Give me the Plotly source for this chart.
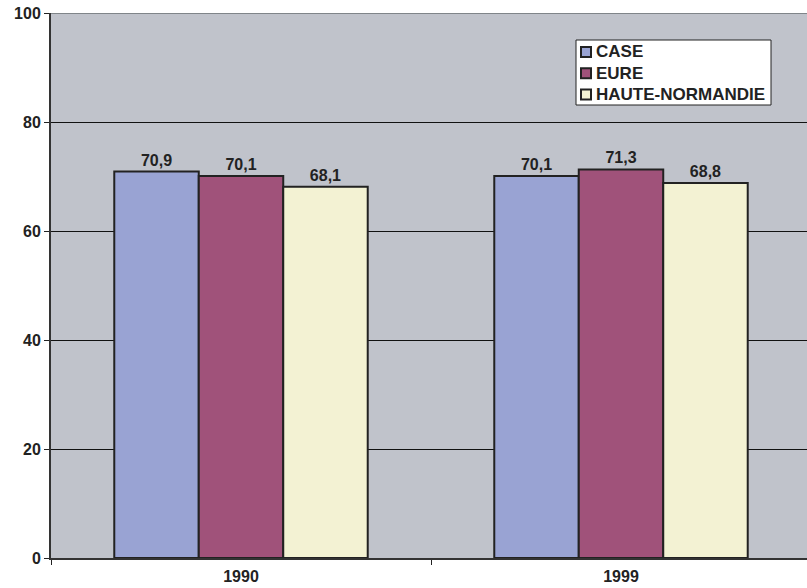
import plotly.graph_objects as go

# Census years and the share (%) for each territory
years = ["1990", "1999"]
case_vals = [70.9, 70.1]
eure_vals = [70.1, 71.3]
hn_vals = [68.1, 68.8]

series = [
    ("CASE", case_vals, "#99A3D3"),
    ("EURE", eure_vals, "#A0527A"),
    ("HAUTE-NORMANDIE", hn_vals, "#F3F2D3"),
]

FAMILY = "Liberation Sans, Arial, sans-serif"
bold = dict(family=FAMILY, size=16, color="#222222", weight="bold")
legend_font = dict(family=FAMILY, size=17, color="#222222", weight="bold")

# plot area in pixels (for placing the boxed key)
L, T, W, H = 51, 13, 756, 545


def px(x):
    return (x - L) / W


def py(y):
    return (T + H - y) / H


def fr(v):
    return f"{v:.1f}".replace(".", ",")


fig = go.Figure()
for name, vals, color in series:
    fig.add_trace(go.Bar(
        x=years, y=vals, name=name,
        marker=dict(color=color, line=dict(color="#222222", width=2)),
        text=[fr(v) for v in vals], textposition="outside",
        textfont=bold, cliponaxis=False, showlegend=False,
    ))

shapes = [
    dict(type="line", xref="paper", yref="y", x0=0, x1=1, y0=100, y1=100,
         line=dict(color="#808589", width=2)),
    # key frame
    dict(type="rect", xref="paper", yref="paper",
         x0=px(576), x1=px(771), y0=py(40), y1=py(105),
         fillcolor="white", line=dict(color="#222222", width=1), layer="above"),
]
annotations = []
for i, (name, vals, color) in enumerate(series):
    cy = 52 + i * 21.3
    shapes.append(dict(type="rect", xref="paper", yref="paper",
                       x0=px(581), x1=px(591), y0=py(cy - 5), y1=py(cy + 5),
                       fillcolor=color, line=dict(color="#222222", width=2), layer="above"))
    annotations.append(dict(xref="paper", yref="paper", x=px(594), y=py(cy),
                            xanchor="left", yanchor="middle", text=name,
                            showarrow=False, font=legend_font))

fig.update_layout(
    width=807, height=588,
    margin=dict(l=L, r=0, t=T, b=588 - T - H),
    paper_bgcolor="white", plot_bgcolor="#C0C3CB",
    barmode="group", bargap=0.333, bargroupgap=0,
    font=bold,
    showlegend=False,
    xaxis=dict(
        range=[-0.5, 1.5 - 4 / 380], showgrid=False,
        ticks="outside", ticklen=5, tickcolor="#222222",
        tickson="boundaries", showline=True, linecolor="#333333", linewidth=2,
        tickfont=bold, ticklabelstandoff=3, fixedrange=True, automargin=False,
    ),
    yaxis=dict(
        range=[0, 100], tickvals=[0, 20, 40, 60, 80, 100],
        showgrid=True, gridcolor="#111111", gridwidth=1,
        ticks="outside", ticklen=5, tickcolor="#222222",
        showline=True, linecolor="#333333", linewidth=2,
        tickfont=bold, zeroline=False, fixedrange=True, automargin=False,
    ),
    shapes=shapes,
    annotations=annotations,
)

fig.write_html("out.html")
